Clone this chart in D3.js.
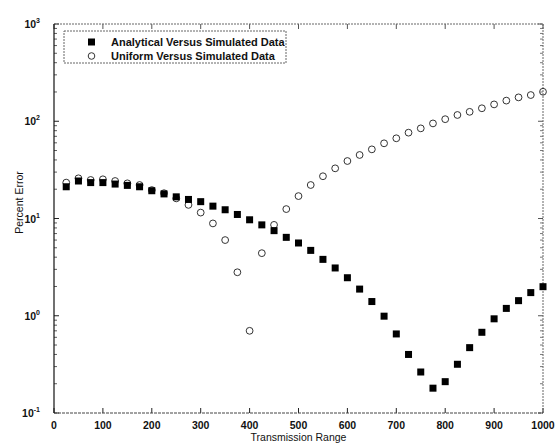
<!DOCTYPE html>
<html><head><meta charset="utf-8">
<script src="https://cdn.jsdelivr.net/npm/d3@7"></script>
<style>
body{margin:0;background:#fff;}
svg{font-family:"Liberation Sans",Arial,sans-serif;}
</style></head>
<body>
<script>
const ranges = d3.range(25, 1001, 25);
const analytical = [21.2,24.3,23.4,23.4,22.6,21.9,21.2,19.3,17.9,16.7,15.7,14.9,13.4,12.3,11.0,9.7,8.6,7.5,6.4,5.6,4.7,3.8,3.1,2.46,1.88,1.40,0.99,0.65,0.40,0.264,0.18,0.21,0.317,0.47,0.676,0.93,1.19,1.43,1.73,1.99];
const uniform = [23.4,25.9,24.9,25.3,24.3,23.0,22.1,19.6,18.2,16.1,13.8,11.5,8.9,6.0,2.8,0.70,4.4,8.6,12.5,17.0,22.1,27.2,32.8,39,45,51.4,59.3,66.8,76.3,84.5,95,105,116,125,136,149,163,176,186,201];
const xTicks = [0,100,200,300,400,500,600,700,800,900,1000];
const yTicks = [0.1,1,10,100,1000];
const yExps = ["-1","0","1","2","3"];
const seriesNames = ["Analytical Versus Simulated Data","Uniform Versus Simulated Data"];
const xTitle = "Transmission Range", yTitle = "Percent Error";

const W=558,H=444, L=54,R=543,T=24,B=413;
const svg=d3.select("body").append("svg").attr("width",W).attr("height",H);
const x=d3.scaleLinear().domain([0,1000]).range([L,R]);
const y=d3.scaleLog().domain([0.1,1000]).range([B,T]);

// minor ticks
const minors=[];
for(let e=-1;e<3;e++){for(let m=2;m<=9;m++)minors.push(m*Math.pow(10,e));}
const g=svg.append("g");
minors.forEach(v=>{
  g.append("line").attr("x1",L).attr("x2",L+3).attr("y1",y(v)).attr("y2",y(v)).attr("stroke","#333").attr("stroke-width",0.8);
  g.append("line").attr("x1",R).attr("x2",R-3).attr("y1",y(v)).attr("y2",y(v)).attr("stroke","#555").attr("stroke-width",0.8);
});
yTicks.forEach(v=>{
  g.append("line").attr("x1",L).attr("x2",L+5).attr("y1",y(v)).attr("y2",y(v)).attr("stroke","#222");
  g.append("line").attr("x1",R).attr("x2",R-5).attr("y1",y(v)).attr("y2",y(v)).attr("stroke","#555");
});
xTicks.forEach(v=>{
  g.append("line").attr("x1",x(v)).attr("x2",x(v)).attr("y1",B).attr("y2",B-5).attr("stroke","#222");
  g.append("line").attr("x1",x(v)).attr("x2",x(v)).attr("y1",T).attr("y2",T+5).attr("stroke","#555");
});
// frame
g.append("line").attr("x1",L).attr("x2",R).attr("y1",T).attr("y2",T).attr("stroke","#666").attr("stroke-dasharray","2,1");
g.append("line").attr("x1",R).attr("x2",R).attr("y1",T).attr("y2",B).attr("stroke","#666").attr("stroke-dasharray","2,1");
g.append("line").attr("x1",L).attr("x2",R).attr("y1",B).attr("y2",B).attr("stroke","#444").attr("stroke-dasharray","3,1");
g.append("line").attr("x1",L).attr("x2",L).attr("y1",T).attr("y2",B).attr("stroke","#111").attr("stroke-width",1.2);

// x tick labels
svg.append("g").selectAll("text").data(xTicks).join("text")
  .attr("x",d=>x(d)).attr("y",B+16).attr("text-anchor","middle")
  .attr("font-size",10.5).attr("font-weight","bold").attr("fill","#111").text(d=>d);
// y tick labels
yTicks.forEach((v,i)=>{
  const t=svg.append("text").attr("x",L-14).attr("y",y(v)+4).attr("text-anchor","end")
    .attr("font-size",10.5).attr("font-weight","bold").attr("fill","#111");
  t.append("tspan").text("10");
  t.append("tspan").attr("dy",-5).attr("font-size",7).text(yExps[i]);
});
svg.append("text").attr("x",(L+R)/2).attr("y",441).attr("text-anchor","middle")
  .attr("font-size",10.5).attr("fill","#111").text(xTitle);
svg.append("text").attr("transform","translate(23,"+((T+B)/2-16)+") rotate(-90)").attr("text-anchor","middle")
  .attr("font-size",10.5).attr("fill","#111").text(yTitle);

// data
const s=7;
svg.append("g").selectAll("circle").data(ranges).join("circle")
  .attr("cx",(d)=>x(d)).attr("cy",(d,i)=>y(uniform[i])).attr("r",3.4)
  .attr("fill","none").attr("stroke","#333").attr("stroke-width",1);
svg.append("g").selectAll("rect").data(ranges).join("rect")
  .attr("x",d=>x(d)-s/2).attr("y",(d,i)=>y(analytical[i])-s/2).attr("width",s).attr("height",s)
  .attr("fill","#000");

// legend
const lg=svg.append("g");
lg.append("rect").attr("x",64).attr("y",31).attr("width",222).attr("height",32)
  .attr("fill","#fff").attr("stroke","#666").attr("stroke-dasharray","2,1");
lg.append("rect").attr("x",88).attr("y",38.5).attr("width",7).attr("height",7).attr("fill","#000");
lg.append("circle").attr("cx",91.5).attr("cy",56).attr("r",3.3).attr("fill","none").attr("stroke","#333");
lg.append("text").attr("x",111).attr("y",46).attr("font-size",11).attr("font-weight","bold").attr("fill","#111").text(seriesNames[0]);
lg.append("text").attr("x",111).attr("y",60).attr("font-size",11).attr("font-weight","bold").attr("fill","#111").text(seriesNames[1]);
</script>
</body></html>
